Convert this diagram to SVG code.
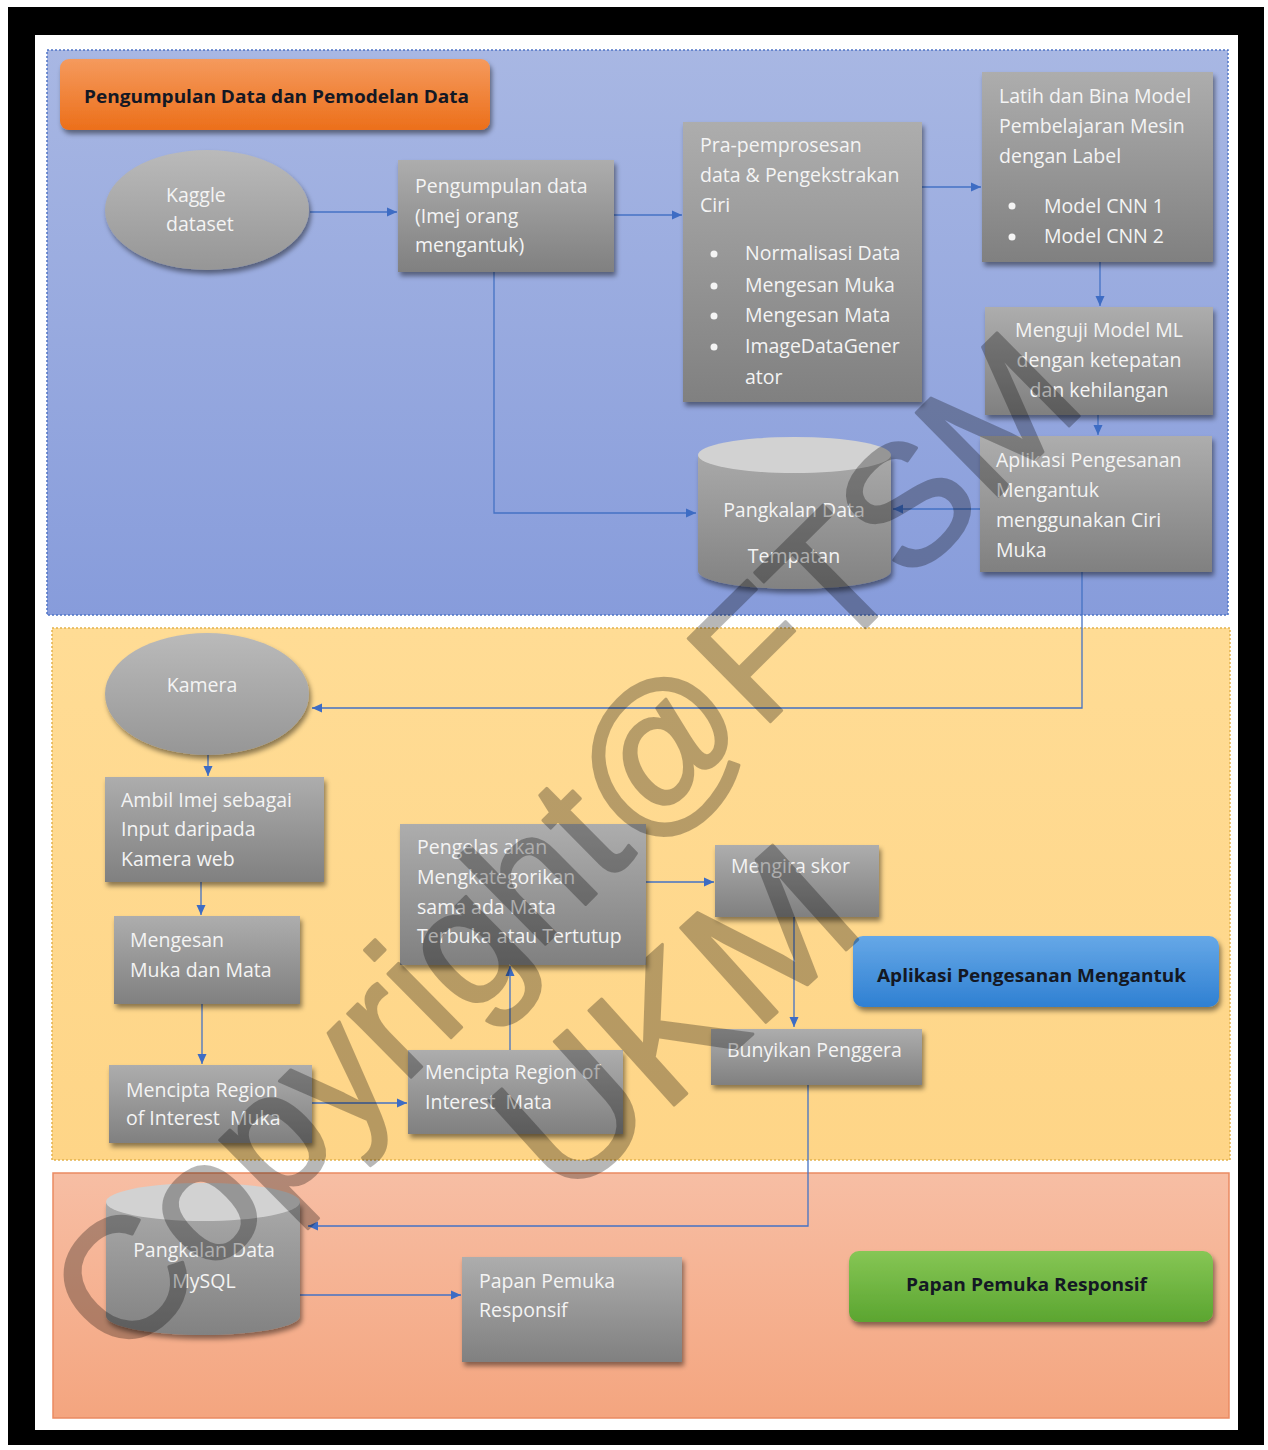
<svg xmlns="http://www.w3.org/2000/svg" width="1268" height="1450" viewBox="0 0 1268 1450">
<defs>
<linearGradient id="gBluePanel" x1="0" y1="0" x2="0" y2="1"><stop offset="0" stop-color="#a8b7e3"/><stop offset="1" stop-color="#879cdb"/></linearGradient>
<linearGradient id="gYellow" x1="0" y1="0" x2="0" y2="1"><stop offset="0" stop-color="#ffdc95"/><stop offset="1" stop-color="#fed587"/></linearGradient>
<linearGradient id="gSalmon" x1="0" y1="0" x2="0" y2="1"><stop offset="0" stop-color="#f7bea4"/><stop offset="1" stop-color="#f4a57f"/></linearGradient>
<linearGradient id="gBox" x1="0" y1="0" x2="0" y2="1"><stop offset="0" stop-color="#adadad"/><stop offset="1" stop-color="#808080"/></linearGradient>
<linearGradient id="gEll" x1="0" y1="0" x2="0" y2="1"><stop offset="0" stop-color="#bababa"/><stop offset="1" stop-color="#969696"/></linearGradient>
<linearGradient id="gCyl" x1="0" y1="0" x2="0" y2="1"><stop offset="0" stop-color="#a9a9a9"/><stop offset="1" stop-color="#828282"/></linearGradient>
<linearGradient id="gOrange" x1="0" y1="0" x2="0" y2="1"><stop offset="0" stop-color="#f59a5d"/><stop offset="1" stop-color="#ec6f1a"/></linearGradient>
<linearGradient id="gBlueLbl" x1="0" y1="0" x2="0" y2="1"><stop offset="0" stop-color="#66a8e7"/><stop offset="1" stop-color="#2f80d2"/></linearGradient>
<linearGradient id="gGreen" x1="0" y1="0" x2="0" y2="1"><stop offset="0" stop-color="#86c655"/><stop offset="1" stop-color="#5ba530"/></linearGradient>
<filter id="shadow" x="-10%" y="-10%" width="130%" height="140%"><feDropShadow dx="2" dy="4" stdDeviation="2.5" flood-color="#000" flood-opacity="0.45"/></filter>
<marker id="arr" markerUnits="userSpaceOnUse" markerWidth="11" markerHeight="11" refX="10" refY="5.5" orient="auto"><path d="M0,1 L10,5.5 L0,10 z" fill="#3d6cc4"/></marker>
</defs>
<style>
.node{fill:url(#gBox);filter:url(#shadow)}
.ell{fill:url(#gEll);filter:url(#shadow)}
.t{font-family:"Open Sans","Noto Sans",sans-serif;font-size:19.5px;fill:#f4f4f4}
.lbl{font-family:"Open Sans","Noto Sans",sans-serif;font-size:18px;font-weight:bold;fill:#141824}
.c{fill:none;stroke:#4472c4;stroke-width:1.3;marker-end:url(#arr)}
.wm{font-family:"Liberation Sans",Arial,sans-serif;font-weight:normal;fill:#000;stroke:#000;stroke-width:3;stroke-linejoin:round}
</style>
<rect x="0" y="0" width="1268" height="1450" fill="#ffffff"/>
<rect x="8" y="7" width="1256" height="1438" fill="#000000"/>
<rect x="35" y="35" width="1203" height="1395" fill="#ffffff"/>

<g id="panels">
<rect x="47" y="50" width="1181" height="565" fill="url(#gBluePanel)" stroke="#4f74c6" stroke-width="1.5" stroke-dasharray="2 2"/>
<rect x="52" y="628" width="1178" height="532" fill="url(#gYellow)" stroke="#e4b24c" stroke-width="1.5" stroke-dasharray="2 2"/>
<rect x="53" y="1173" width="1176" height="245" fill="url(#gSalmon)" stroke="#ea8a62" stroke-width="1.5"/>
</g>

<g id="connectors">
<path class="c" d="M310,212 H397"/>
<path class="c" d="M614,215 H682"/>
<path class="c" d="M922,187 H981"/>
<path class="c" d="M1100,262 V306"/>
<path class="c" d="M1098,415 V435"/>
<path class="c" d="M494,272 V513 H696"/>
<path class="c" d="M980,509 H893"/>
<path class="c" d="M1082,572 V708 H312"/>
<path class="c" d="M208,755 V776"/>
<path class="c" d="M201,882 V915"/>
<path class="c" d="M202,1004 V1064"/>
<path class="c" d="M312,1103 H407"/>
<path class="c" d="M510,1050 V966"/>
<path class="c" d="M646,882 H714"/>
<path class="c" d="M794,917 V1027"/>
<path class="c" d="M808,1085 V1226 H308"/>
<path class="c" d="M300,1295 H461"/>
</g>

<g id="title-data">
<rect x="60" y="59" width="430" height="71" rx="9" fill="url(#gOrange)" filter="url(#shadow)"/>
<text class="lbl" x="84" y="103" textLength="385" lengthAdjust="spacingAndGlyphs">Pengumpulan Data dan Pemodelan Data</text>
</g>

<g id="kaggle">
<ellipse class="ell" cx="207" cy="210" rx="102" ry="60"/>
<text class="t" x="166" y="202">Kaggle</text>
<text class="t" x="166" y="231">dataset</text>
</g>

<g id="pengumpulan">
<rect class="node" x="398" y="160" width="216" height="112"/>
<text class="t" x="415" y="193">Pengumpulan data</text>
<text class="t" x="415" y="223">(Imej orang</text>
<text class="t" x="415" y="252">mengantuk)</text>
</g>

<g id="prapemprosesan">
<rect class="node" x="683" y="122" width="239" height="280"/>
<text class="t" x="700" y="152">Pra-pemprosesan</text>
<text class="t" x="700" y="182">data &amp; Pengekstrakan</text>
<text class="t" x="700" y="212">Ciri</text>
<g fill="#f4f4f4"><circle cx="714" cy="254" r="3.5"/><circle cx="714" cy="286" r="3.5"/><circle cx="714" cy="316" r="3.5"/><circle cx="714" cy="347" r="3.5"/></g>
<text class="t" x="745" y="260">Normalisasi Data</text>
<text class="t" x="745" y="292">Mengesan Muka</text>
<text class="t" x="745" y="322">Mengesan Mata</text>
<text class="t" x="745" y="353">ImageDataGener</text>
<text class="t" x="745" y="384">ator</text>
</g>

<g id="latih">
<rect class="node" x="982" y="72" width="231" height="190"/>
<text class="t" x="999" y="103">Latih dan Bina Model</text>
<text class="t" x="999" y="133">Pembelajaran Mesin</text>
<text class="t" x="999" y="163">dengan Label</text>
<g fill="#f4f4f4"><circle cx="1012" cy="206" r="3.5"/><circle cx="1012" cy="237" r="3.5"/></g>
<text class="t" x="1044" y="213">Model CNN 1</text>
<text class="t" x="1044" y="243">Model CNN 2</text>
</g>

<g id="menguji">
<rect class="node" x="985" y="307" width="228" height="108"/>
<text class="t" x="1099" y="337" text-anchor="middle">Menguji Model ML</text>
<text class="t" x="1099" y="367" text-anchor="middle">dengan ketepatan</text>
<text class="t" x="1099" y="397" text-anchor="middle">dan kehilangan</text>
</g>

<g id="aplikasi">
<rect class="node" x="980" y="436" width="232" height="136"/>
<text class="t" x="996" y="467">Aplikasi Pengesanan</text>
<text class="t" x="996" y="497">Mengantuk</text>
<text class="t" x="996" y="527">menggunakan Ciri</text>
<text class="t" x="996" y="557">Muka</text>
</g>

<g id="pangkalan-tempatan">
<path d="M698,455 V571 A96.5,18 0 0 0 891,571 V455 Z" fill="url(#gCyl)" filter="url(#shadow)"/>
<ellipse cx="794.5" cy="455" rx="96.5" ry="18" fill="#d2d2d2"/>
<text class="t" x="794" y="517" text-anchor="middle">Pangkalan Data</text>
<text class="t" x="794" y="563" text-anchor="middle">Tempatan</text>
</g>

<g id="kamera">
<ellipse class="ell" cx="207" cy="694" rx="102" ry="61"/>
<text class="t" x="202" y="692" text-anchor="middle">Kamera</text>
</g>

<g id="ambil">
<rect class="node" x="105" y="777" width="219" height="105"/>
<text class="t" x="121" y="807">Ambil Imej sebagai</text>
<text class="t" x="121" y="836">Input daripada</text>
<text class="t" x="121" y="866">Kamera web</text>
</g>

<g id="mengesan">
<rect class="node" x="114" y="916" width="186" height="88"/>
<text class="t" x="130" y="947">Mengesan</text>
<text class="t" x="130" y="977">Muka dan Mata</text>
</g>

<g id="roi-muka">
<rect class="node" x="109" y="1065" width="203" height="78"/>
<text class="t" x="126" y="1097">Mencipta Region</text>
<text class="t" x="126" y="1125" xml:space="preserve">of Interest  Muka</text>
</g>

<g id="roi-mata">
<rect class="node" x="408" y="1050" width="215" height="84"/>
<text class="t" x="425" y="1079">Mencipta Region of</text>
<text class="t" x="425" y="1109" xml:space="preserve">Interest  Mata</text>
</g>

<g id="pengelas">
<rect class="node" x="400" y="824" width="246" height="141"/>
<text class="t" x="417" y="854">Pengelas akan</text>
<text class="t" x="417" y="884">Mengkategorikan</text>
<text class="t" x="417" y="914">sama ada Mata</text>
<text class="t" x="417" y="943">Terbuka atau Tertutup</text>
</g>

<g id="mengira">
<rect class="node" x="715" y="845" width="164" height="72"/>
<text class="t" x="731" y="873">Mengira skor</text>
</g>

<g id="bunyikan">
<rect class="node" x="711" y="1029" width="211" height="56"/>
<text class="t" x="727" y="1057">Bunyikan Penggera</text>
</g>

<g id="label-aplikasi">
<rect x="853" y="936" width="366" height="71" rx="10" fill="url(#gBlueLbl)" filter="url(#shadow)"/>
<text class="lbl" x="877" y="982" textLength="309" lengthAdjust="spacingAndGlyphs">Aplikasi Pengesanan Mengantuk</text>
</g>

<g id="pangkalan-mysql">
<path d="M106,1202 V1316 A97,19 0 0 0 300,1316 V1202 Z" fill="url(#gCyl)" filter="url(#shadow)"/>
<ellipse cx="203" cy="1202" rx="97" ry="19" fill="#d2d2d2"/>
<text class="t" x="204" y="1257" text-anchor="middle">Pangkalan Data</text>
<text class="t" x="204" y="1288" text-anchor="middle">MySQL</text>
</g>

<g id="papan">
<rect class="node" x="462" y="1257" width="220" height="105"/>
<text class="t" x="479" y="1288">Papan Pemuka</text>
<text class="t" x="479" y="1317">Responsif</text>
</g>

<g id="label-papan">
<rect x="849" y="1251" width="364" height="71" rx="10" fill="url(#gGreen)" filter="url(#shadow)"/>
<text class="lbl" x="906" y="1291" textLength="241" lengthAdjust="spacingAndGlyphs">Papan Pemuka Responsif</text>
</g>

<g id="watermark" opacity="0.28">
<text class="wm" font-size="170" text-anchor="middle" transform="translate(562,842) rotate(-44.7)" x="0" y="61">Copyright@FTSM</text>
<text class="wm" font-size="185" text-anchor="middle" transform="translate(672,1018) rotate(-42)" x="0" y="66">UKM</text>
</g>
</svg>
